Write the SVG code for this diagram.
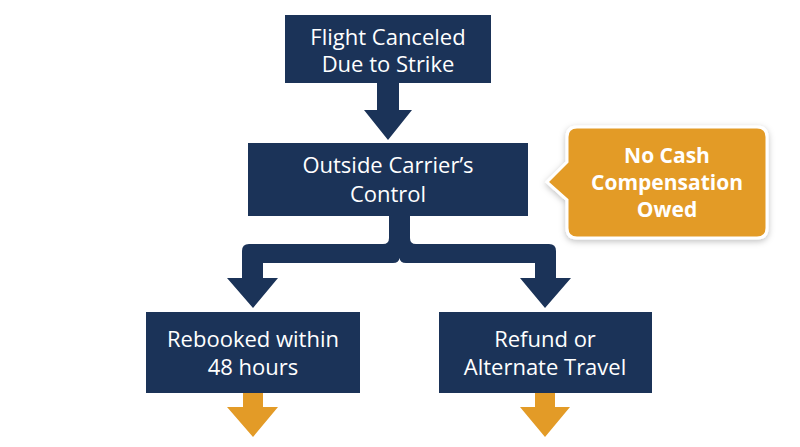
<svg xmlns="http://www.w3.org/2000/svg" width="800" height="447" viewBox="0 0 800 447">
<style>
.n{fill:#1b3358}.o{fill:#e39b27}
text{font-family:"Open Sans","Liberation Sans",sans-serif;font-size:22px;font-weight:500;fill:#fff;text-anchor:middle}
.b{font-weight:bold;font-size:21px}
</style>
<defs><filter id="sh" x="-10%" y="-10%" width="120%" height="130%"><feDropShadow dx="0" dy="2" stdDeviation="3" flood-color="#000" flood-opacity="0.25"/></filter></defs>
<rect width="800" height="447" fill="#fff"/>
<g id="connectors">
<polygon class="n" points="377,83 399,83 399,110 412,110 388,140 364,110 377,110"/>
<path class="n" d="M389,216 H410 V238 Q410,244 416,244 H549 Q556,244 556,251 V278 H571 L545,308 L520,278 H535 V263 H406 Q400,263 399.5,258 Q399,263 393,263 H263 V278 H278 L253,308 L227,278 H242 V251 Q242,244 249,244 H383 Q389,244 389,238 Z"/>
<polygon class="o" points="243,393 263,393 263,407 278,407 253,437 227,407 243,407"/>
<polygon class="o" points="535,393 555,393 555,407 570,407 545,437 520,407 535,407"/>
</g>
<g id="n1"><rect class="n" x="285" y="15" width="206" height="68"/><text x="388" y="45">Flight Canceled</text><text x="388" y="72">Due to Strike</text></g>
<g id="n2"><rect class="n" x="248" y="143" width="280" height="73"/><text x="388" y="173">Outside Carrier’s</text><text x="388" y="202">Control</text></g>
<g id="n3"><path class="o" filter="url(#sh)" stroke="#fff" stroke-width="3" d="M577,127 H757 Q767,127 767,137 V228 Q767,238 757,238 H577 Q567,238 567,228 V200 L547,182 L567,162 V137 Q567,127 577,127 Z"/><text class="b" x="667" y="163">No Cash</text><text class="b" x="667" y="190">Compensation</text><text class="b" x="667" y="217">Owed</text></g>
<g id="n4"><rect class="n" x="146" y="312" width="214" height="81"/><text x="253" y="347">Rebooked within</text><text x="253" y="375">48 hours</text></g>
<g id="n5"><rect class="n" x="439" y="312" width="213" height="81"/><text x="545" y="347">Refund or</text><text x="545" y="375">Alternate Travel</text></g>
</svg>
